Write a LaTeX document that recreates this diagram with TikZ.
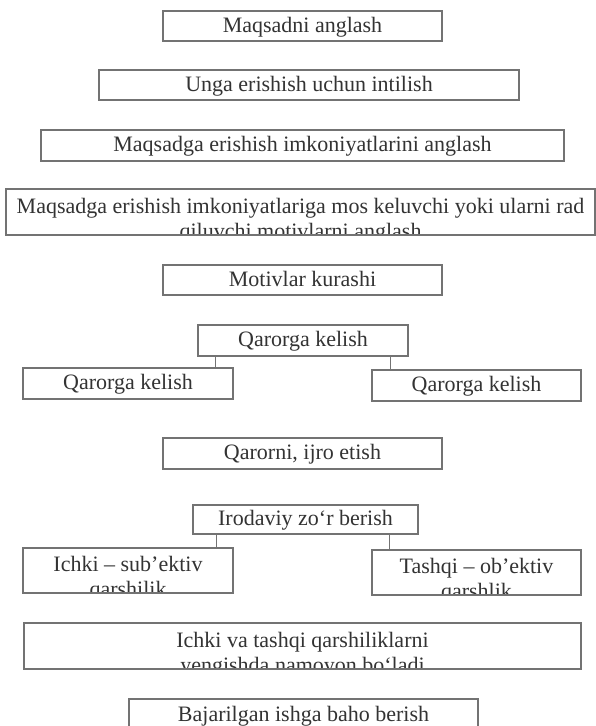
\documentclass[tikz,border=0pt]{standalone}
\usepackage{fontspec}
\setmainfont{Liberation Serif}
\newcommand{\fsz}{\fontsize{22}{26}\selectfont}
\begin{document}
\begin{tikzpicture}[x=1pt,y=-1pt,
  box/.style={draw=black!55, line width=1.1pt, inner sep=0pt, text=black!80, font=\fsz, text height=16pt, text depth=4pt},
  clipbox/.style={draw=black!55, line width=1.1pt, inner sep=0pt},
  ln/.style={font=\fsz, text=black!80, anchor=base, inner sep=0pt},
  conn/.style={draw=black!55, line width=1.1pt}]
\useasboundingbox (0,0) rectangle (596,726);
\fill[white] (0,0) rectangle (596,726);

\node[box, minimum width=279pt, minimum height=30pt] (b1) at (302.5,26) {Maqsadni anglash};
\node[box, minimum width=420pt, minimum height=30pt] (b2) at (309,85) {Unga erishish uchun intilish};
\node[box, minimum width=523pt, minimum height=31pt] (b3) at (302.5,145.5) {Maqsadga erishish imkoniyatlarini anglash};
\node[clipbox, minimum width=589pt, minimum height=46pt, path picture={
  \node[ln] at ([yshift=22pt]path picture bounding box.south) {Maqsadga erishish imkoniyatlariga mos keluvchi yoki ularni rad};
  \node[ln] at ([yshift=-3pt]path picture bounding box.south) {qiluvchi motivlarni anglash};}] (b4) at (300.5,212) {};
\node[box, minimum width=279pt, minimum height=30pt] (b5) at (302.5,280) {Motivlar kurashi};
\node[box, minimum width=210pt, minimum height=31pt] (b6) at (303,340.5) {Qarorga kelish};
\node[box, minimum width=210pt, minimum height=31pt] (b7) at (128,383.5) {Qarorga kelish};
\node[box, minimum width=209pt, minimum height=31pt] (b8) at (476.5,385.5) {Qarorga kelish};
\node[box, minimum width=279pt, minimum height=31pt] (b9) at (302.5,453.5) {Qarorni, ijro etish};
\node[box, minimum width=225pt, minimum height=29pt] (b10) at (305.5,519.5) {Irodaviy zo‘r berish};
\node[clipbox, minimum width=210pt, minimum height=45pt, path picture={
  \node[ln] at ([yshift=22pt]path picture bounding box.south) {Ichki – sub’ektiv};
  \node[ln] at ([yshift=-3pt]path picture bounding box.south) {qarshilik};}] (b11) at (128,570.5) {};
\node[clipbox, minimum width=209pt, minimum height=45pt, path picture={
  \node[ln] at ([yshift=22pt]path picture bounding box.south) {Tashqi – ob’ektiv};
  \node[ln] at ([yshift=-3pt]path picture bounding box.south) {qarshlik};}] (b12) at (476.5,572.5) {};
\node[clipbox, minimum width=557pt, minimum height=46pt, path picture={
  \node[ln] at ([yshift=22pt]path picture bounding box.south) {Ichki va tashqi qarshiliklarni};
  \node[ln] at ([yshift=-3pt]path picture bounding box.south) {yengishda namoyon bo‘ladi};}] (b13) at (302.5,646) {};
\node[box, minimum width=349pt, minimum height=32pt] (b14) at (303.5,715) {Bajarilgan ishga baho berish};

\draw[conn] ([xshift=18pt]b6.south west) -- ([xshift=18pt]b6.south west |- b7.north);
\draw[conn] ([xshift=-18pt]b6.south east) -- ([xshift=-18pt]b6.south east |- b8.north);
\draw[conn] ([xshift=-17pt]b11.north east) -- ([xshift=-17pt]b11.north east |- b10.south);
\draw[conn] ([xshift=18pt]b12.north west) -- ([xshift=18pt]b12.north west |- b10.south);
\end{tikzpicture}
\end{document}
